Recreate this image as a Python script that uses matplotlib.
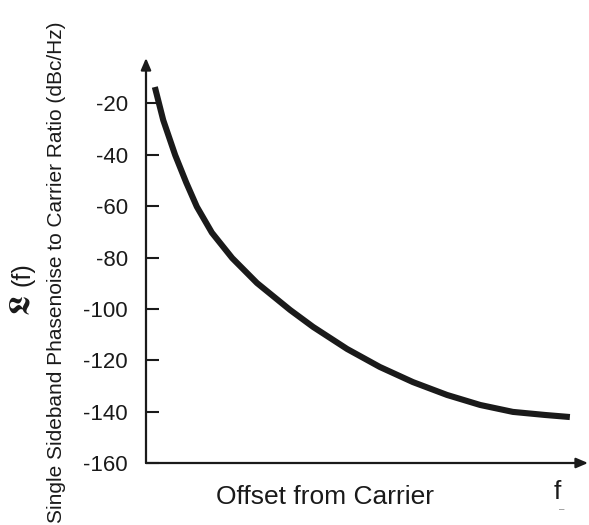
import matplotlib
matplotlib.use("Agg")
import matplotlib.pyplot as plt

# Data (x: relative offset from carrier, 0..100 axis units)
offset = [2.0, 3.9, 6.6, 9.1, 11.5, 14.9, 19.5, 25.1, 32.6, 37.8, 45.5, 52.9, 60.4, 68.1, 75.6, 83.0,
          90.3, 95.9]
phase_noise = [-13.6, -26.5, -40.1, -50.8, -60.2, -70.3, -80.2, -89.9, -100.4, -107.0, -115.6, -122.6,
               -128.5, -133.5, -137.4, -140.1, -141.3, -142.1]
yticks = [-160, -140, -120, -100, -80, -60, -40, -20]
ytick_labels = ["-160", "-140", "-120", "-100", "-80", "-60", "-40", "-20"]

plt.rcParams['font.family'] = ['Liberation Sans', 'DejaVu Sans']
INK = '#1a1a1a'

fig = plt.figure(figsize=(5.89, 5.25), dpi=100)
ax = fig.add_axes([146/589, 62/525, 442/589, 405/525])
ax.set_xlim(0, 100)
ax.set_ylim(-160, -2.3)

ax.plot(offset, phase_noise, color=INK, lw=4.4, solid_capstyle='butt', solid_joinstyle='round')

for s in ax.spines.values():
    s.set_visible(False)

# axes with arrows
for tip in [(0, 1.0), (1.0, 0)]:
    ax.annotate('', xy=tip, xytext=(0, 0), xycoords='axes fraction',
                arrowprops=dict(arrowstyle='-|>,head_length=0.7,head_width=0.3', lw=1.6, color=INK,
                                shrinkA=0, shrinkB=0))

ax.set_yticks(yticks)
ax.set_yticklabels(ytick_labels, fontsize=16, color=INK)
ax.tick_params(axis='y', direction='in', length=9.5, width=1.5, color=INK, pad=13)
ax.set_xticks([])

fig.text(57/589, 1 - 272/525, "Single Sideband Phasenoise to Carrier Ratio (dBc/Hz)", fontsize=15,
         rotation=90, ha='center', va='center', color=INK)
fig.text(325/589, 1 - 497/525, "Offset from Carrier", fontsize=19, ha='center', va='center', color=INK)
fig.text(557/589, 1 - 492/525, "f", fontsize=19, ha='center', va='center', color=INK)
fig.text(562/589, 1 - 509/525, "\u2013", fontsize=7, ha='center', va='center', color='#888888')
fig.text(21/589, 1 - 306/525, r"$\mathbf{\mathfrak{L}}$", fontsize=21, rotation=90, ha='center', va='center',
         color=INK, math_fontfamily='stix')
fig.text(23/589, 1 - 274/525, "(f)", fontsize=18, rotation=90, ha='center', va='center', color=INK)

fig.savefig("out.png", dpi=100)
